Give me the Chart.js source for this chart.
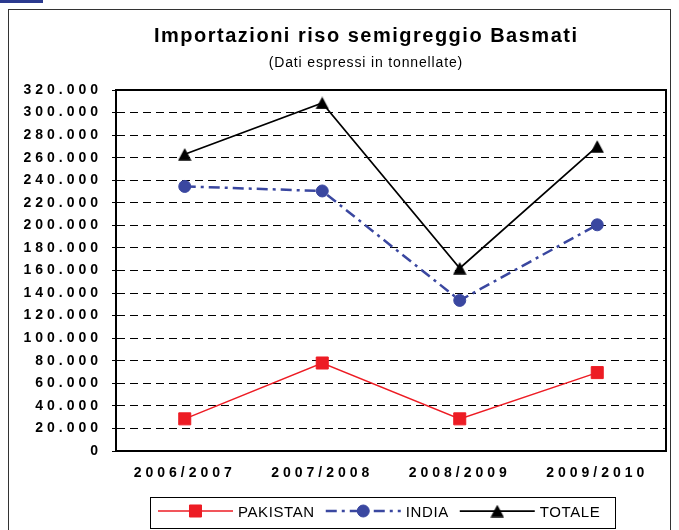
<!DOCTYPE html>
<html><head><meta charset="utf-8">
<script src="https://cdn.jsdelivr.net/npm/chart.js@4/dist/chart.umd.min.js"></script>
<style>
html,body{margin:0;padding:0;background:#fff;width:679px;height:530px;overflow:hidden;}
#bar{position:absolute;left:0;top:0;width:43px;height:3px;background:#2b3a8f;}
#frame{position:absolute;left:8px;top:9px;width:663px;height:540px;border:1.5px solid #333;box-sizing:border-box;}
#wrap{position:absolute;left:0;top:0;width:679px;height:530px;}
</style></head><body>
<div id="bar"></div><div id="frame"></div>
<div id="wrap"><canvas id="c" width="679" height="530"></canvas></div>
<script>
// ---- data ----
const categories = ['2006/2007', '2007/2008', '2008/2009', '2009/2010'];
const pakistan = [28500, 78000, 28500, 69500];
const india = [234500, 230500, 133500, 200500];
const totale = [263000, 308500, 162000, 270000];
const seriesNames = ['PAKISTAN', 'INDIA', 'TOTALE'];
const titleText = 'Importazioni riso semigreggio Basmati';
const subtitleText = '(Dati espressi in tonnellate)';
const yMin = 0, yMax = 320000, yStep = 20000;

// ---- styles ----
const FONT = '"Liberation Sans", Arial, Helvetica, sans-serif';
const RED = '#ed1c24', BLUE = '#3a47a0', BLACK = '#000000';

function fmt(v) { return String(v).replace(/\B(?=(\d{3})+(?!\d))/g, '.'); }

// triangle marker centred on its bounding box (as in the original spreadsheet chart)
function triangleCanvas(w, h, color) {
  const c = document.createElement('canvas');
  c.width = w; c.height = h;
  const t = c.getContext('2d');
  t.fillStyle = color;
  t.beginPath();
  t.moveTo(w / 2, 0.3); t.lineTo(w - 0.3, h - 0.3); t.lineTo(0.3, h - 0.3);
  t.closePath(); t.fill();
  return c;
}
const TRI = triangleCanvas(14, 13, BLACK);

function marker(ctx, style, x, y, r, color) {
  ctx.save();
  ctx.setLineDash([]);
  ctx.fillStyle = color; ctx.strokeStyle = color; ctx.lineWidth = 1;
  if (style instanceof HTMLCanvasElement) {
    ctx.drawImage(style, x - style.width / 2, y - style.height / 2);
    ctx.restore(); return;
  }
  ctx.beginPath();
  if (style === 'rect') { const s = r * Math.SQRT1_2; ctx.rect(x - s, y - s, 2 * s, 2 * s); }
  else if (style === 'circle') { ctx.arc(x, y, r, 0, Math.PI * 2); }
  ctx.fill(); ctx.stroke();
  ctx.restore();
}

const deco = {
  id: 'deco',
  beforeDraw(chart) { chart.ctx.letterSpacing = '4px'; },
  beforeDatasetsDraw(chart) {
    const { ctx, chartArea: a } = chart;
    ctx.save();
    ctx.setLineDash([]);
    ctx.strokeStyle = BLACK; ctx.lineWidth = 2;
    ctx.strokeRect(a.left, a.top, a.right - a.left, a.bottom - a.top);
    ctx.restore();
  },
  afterDraw(chart) {
    const ctx = chart.ctx;
    ctx.save();
    // title
    ctx.fillStyle = BLACK;
    ctx.textAlign = 'center';
    ctx.textBaseline = 'alphabetic';
    ctx.letterSpacing = '1.5px';
    ctx.font = 'bold 20px ' + FONT;
    const cx = chart.width / 2 + 26;
    ctx.fillText(titleText, cx + 0.75, 42);
    ctx.letterSpacing = '0.85px';
    ctx.font = '14px ' + FONT;
    ctx.fillText(subtitleText, cx + 0.4, 67);

    // legend
    const L = { left: 150, top: 497, width: 465, height: 31 };
    ctx.letterSpacing = '0px';
    ctx.strokeStyle = BLACK; ctx.lineWidth = 1; ctx.setLineDash([]);
    ctx.strokeRect(L.left + 0.5, L.top + 0.5, L.width, L.height);
    ctx.font = '15px ' + FONT;
    ctx.letterSpacing = '0.6px';
    ctx.textAlign = 'left';
    let x = L.left + 8;
    const ly = L.top + 14;
    chart.data.datasets.forEach((ds) => {
      const lineLen = 75;
      ctx.save();
      ctx.strokeStyle = ds.borderColor;
      ctx.lineWidth = ds.borderWidth;
      ctx.setLineDash(ds.borderDash || []);
      ctx.beginPath(); ctx.moveTo(x, ly); ctx.lineTo(x + lineLen, ly); ctx.stroke();
      ctx.restore();
      marker(ctx, ds.pointStyle, x + lineLen / 2, ly, ds.pointRadius, ds.borderColor);
      ctx.fillStyle = BLACK;
      ctx.fillText(ds.label, x + lineLen + 5, ly + 5.5);
      x += lineLen + 5 + ctx.measureText(ds.label).width + 11;
    });
    ctx.restore();
    ctx.letterSpacing = '0px';
  }
};

new Chart(document.getElementById('c'), {
  type: 'line',
  data: {
    labels: categories,
    datasets: [
      { label: seriesNames[0], data: pakistan, borderColor: RED, backgroundColor: RED,
        borderWidth: 1.5, pointStyle: 'rect', pointRadius: 8.5, pointBorderWidth: 1, tension: 0 },
      { label: seriesNames[1], data: india, borderColor: BLUE, backgroundColor: BLUE,
        borderWidth: 2.5, borderDash: [11, 5, 3, 5], pointStyle: 'circle', pointRadius: 6,
        pointBorderWidth: 1, tension: 0 },
      { label: seriesNames[2], data: totale, borderColor: BLACK, backgroundColor: BLACK,
        borderWidth: 1.75, pointStyle: TRI, pointRadius: 7.5, pointBorderWidth: 1, tension: 0 }
    ]
  },
  options: {
    responsive: false,
    devicePixelRatio: 1,
    animation: false,
    events: [],
    layout: { padding: { left: 16, right: 13, top: 90, bottom: 49 } },
    plugins: { legend: { display: false }, title: { display: false }, tooltip: { enabled: false } },
    scales: {
      x: {
        type: 'category',
        offset: true,
        grid: { display: false, drawTicks: false },
        border: { display: true, color: BLACK, width: 2 },
        ticks: { color: BLACK, font: { family: FONT, size: 14, weight: 'bold' }, padding: 14,
                 maxRotation: 0, minRotation: 0, autoSkip: false },
        afterFit(s) { s.height = 30; }
      },
      y: {
        min: yMin, max: yMax,
        grid: { color: BLACK, lineWidth: 1, drawTicks: true, tickLength: 4, tickColor: BLACK, tickWidth: 1 },
        border: { display: true, color: BLACK, width: 2, dash: [8, 5] },
        ticks: { stepSize: yStep, autoSkip: false, color: BLACK, padding: 10,
                 font: { family: FONT, size: 14, weight: 'bold' }, callback: (v) => fmt(v) },
        afterFit(s) { s.width = 100; }
      }
    }
  },
  plugins: [deco]
});
</script>
</body></html>
